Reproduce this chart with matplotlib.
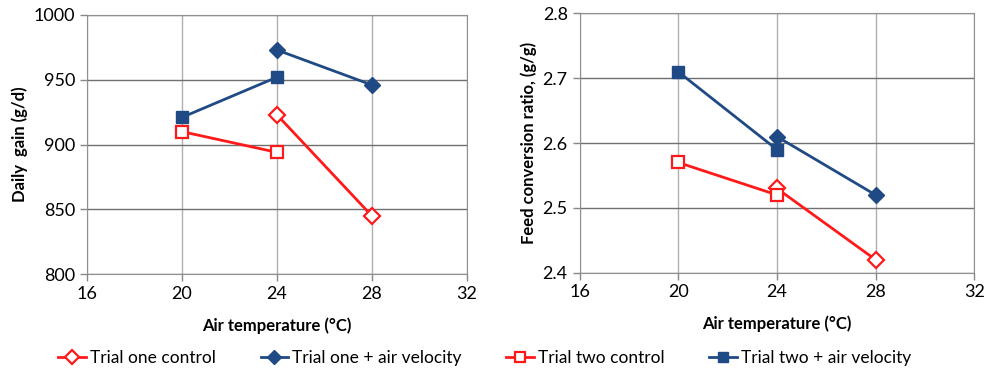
import matplotlib
matplotlib.use("Agg")
import matplotlib.pyplot as plt

plt.rcParams['font.family'] = ['Lato', 'DejaVu Sans']

# air temperature (°C) for each trial
temp_trial_one = [24, 28]
temp_trial_two = [20, 24]

# daily gain (g/d)
gain_one_control = [923, 845]
gain_one_air = [973, 946]
gain_two_control = [910, 894]
gain_two_air = [921, 952]

# feed conversion ratio (g/g)
fcr_one_control = [2.53, 2.42]
fcr_one_air = [2.61, 2.52]
fcr_two_control = [2.57, 2.52]
fcr_two_air = [2.71, 2.59]

x_ticks = [16, 20, 24, 28, 32]

RED = '#FF1A1A'
BLUE = '#1F4A85'


def draw_panel(ax, one_ctrl, one_air, two_ctrl, two_air, ylim, yticks, ylabel, fmt):
    lines = []
    lines += ax.plot(temp_trial_one, one_ctrl, color=RED, lw=2, marker='D', ms=8,
                     mfc='white', mec=RED, mew=1.6, label='Trial one control')
    lines += ax.plot(temp_trial_one, one_air, color=BLUE, lw=2, marker='D', ms=8,
                     mfc=BLUE, mec=BLUE, label='Trial one + air velocity')
    lines += ax.plot(temp_trial_two, two_ctrl, color=RED, lw=2, marker='s', ms=8.5,
                     mfc='white', mec=RED, mew=1.6, label='Trial two control')
    lines += ax.plot(temp_trial_two, two_air, color=BLUE, lw=2, marker='s', ms=8.5,
                     mfc=BLUE, mec=BLUE, label='Trial two + air velocity')
    ax.set_xlim(16, 32)
    ax.set_ylim(*ylim)
    ax.set_xticks(x_ticks)
    ax.set_yticks(yticks)
    ax.set_yticklabels([fmt.format(v) for v in yticks])
    ax.tick_params(labelsize=13, length=5, color='#888888', width=1)
    ax.grid(axis='x', color='#b0b0b0', lw=1)
    ax.grid(axis='y', color='#707070', lw=1)
    ax.set_axisbelow(True)
    for s in ax.spines.values():
        s.set_color('#909090')
    ax.set_xlabel('Air temperature (°C)', fontsize=12, fontweight='bold', labelpad=11)
    ax.set_ylabel(ylabel, fontsize=12, fontweight='bold')
    return lines


fig = plt.figure(figsize=(9.89, 3.84), dpi=100)
ax1 = fig.add_axes([0.088, 0.286, 0.384, 0.675])
ax2 = fig.add_axes([0.586, 0.290, 0.399, 0.675])

handles = draw_panel(ax1, gain_one_control, gain_one_air, gain_two_control, gain_two_air,
                     (800, 1000), [800, 850, 900, 950, 1000], 'Daily  gain (g/d)', '{:.0f}')
draw_panel(ax2, fcr_one_control, fcr_one_air, fcr_two_control, fcr_two_air,
           (2.4, 2.8), [2.4, 2.5, 2.6, 2.7, 2.8], 'Feed conversion ratio, (g/g)', '{:.1f}')

fig.legend(handles=handles, loc='center', bbox_to_anchor=(0.49, 0.068), ncol=4,
           frameon=False, fontsize=12.5, handlelength=1.6, columnspacing=2.6,
           handletextpad=0.2, markerscale=0.9)

fig.savefig('out.png', dpi=100)
